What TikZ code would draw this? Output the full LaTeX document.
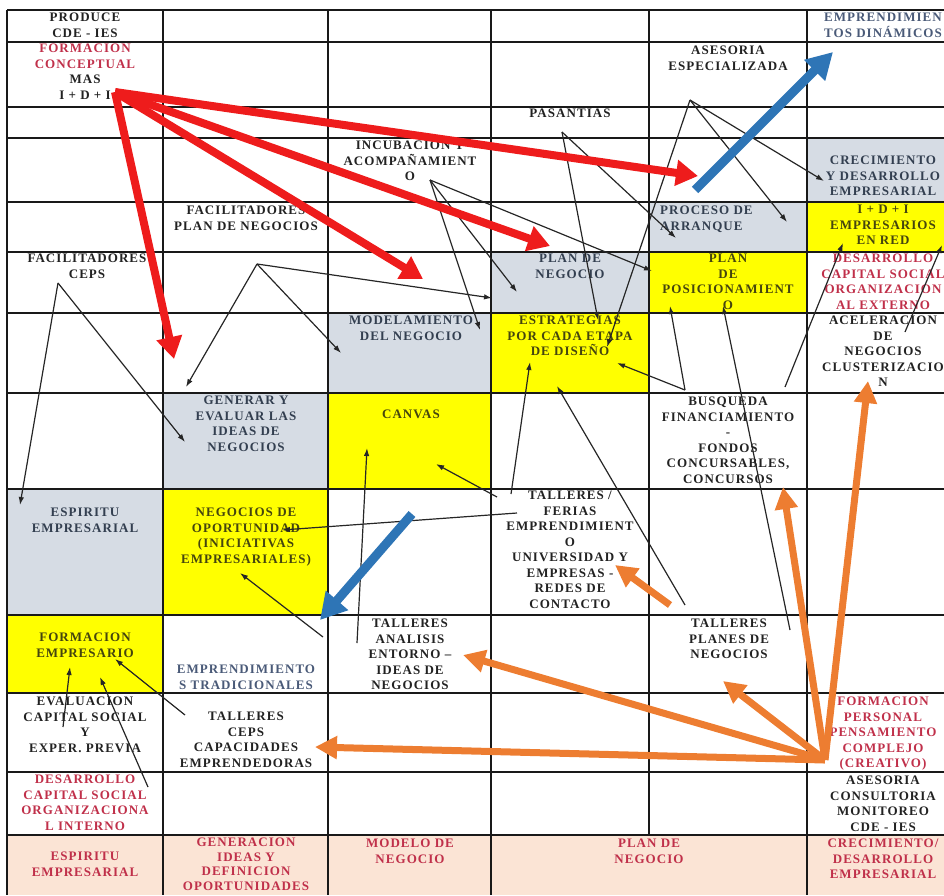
\documentclass[tikz,border=0pt]{standalone}
\usepackage{fontspec}
\setmainfont{Liberation Serif}
\newfontfamily\cellfont[LetterSpace=8]{Liberation Serif}
\usepackage{tikz}
\usetikzlibrary{arrows.meta}
\definecolor{cellGray}{HTML}{D6DCE4}
\definecolor{cellYellow}{HTML}{FFFF00}
\definecolor{cellPink}{HTML}{FBE4D5}
\definecolor{txtDark}{HTML}{222222}
\definecolor{txtRed}{HTML}{C0304A}
\definecolor{txtSlate}{HTML}{333F50}
\definecolor{txtBlue}{HTML}{4A5A78}
\definecolor{txtOlive}{HTML}{45450E}
\definecolor{arrRed}{HTML}{EE1C1C}
\definecolor{arrBlue}{HTML}{2E75B6}
\definecolor{arrOrange}{HTML}{ED7D31}
\tikzset{
  ctxt/.style={anchor=north,align=center,inner sep=0pt,text=txtDark,
    font=\cellfont\bfseries\fontsize{13}{15.5}\selectfont},
  redtxt/.style={ctxt,text=txtRed},
  slatetxt/.style={ctxt,text=txtSlate},
  bluetxt/.style={ctxt,text=txtBlue},
  olivetxt/.style={ctxt,text=txtOlive},
  gline/.style={line width=1.4pt,black!90},
  aflow/.style={-{Latex[length=8pt,width=5.5pt]},line width=1.2pt,black!85},
  ared/.style={-{Triangle[length=22pt,width=25pt]},line width=8pt,arrRed},
  ablue/.style={-{Triangle[length=26pt,width=28pt]},line width=9pt,arrBlue},
  aorange/.style={-{Triangle[length=22pt,width=22pt]},line width=7pt,arrOrange},
}

\begin{document}
\begin{tikzpicture}[x=1pt,y=-1pt]
\useasboundingbox (0,0) rectangle (944,895);
\clip (0,0) rectangle (944,895);
% cell fills
\fill[cellPink] (7,835) rectangle (960,895);
\fill[cellGray] (807,138) rectangle (960,202);
\fill[cellGray] (649,202) rectangle (807,252);
\fill[cellGray] (491,252) rectangle (649,313);
\fill[cellGray] (328,313) rectangle (491,393);
\fill[cellGray] (163,393) rectangle (328,489);
\fill[cellGray] (7,489) rectangle (163,615);
\fill[cellYellow] (807,202) rectangle (960,252);
\fill[cellYellow] (649,252) rectangle (807,313);
\fill[cellYellow] (491,313) rectangle (649,393);
\fill[cellYellow] (328,393) rectangle (491,489);
\fill[cellYellow] (163,489) rectangle (328,615);
\fill[cellYellow] (7,615) rectangle (163,693);
% grid
\foreach \y in {10,42,107,138,202,252,313,393,489,615,693,772,835}
  \draw[gline] (7,\y) -- (960,\y);
\foreach \x in {7,163,328,491,807}
  \draw[gline] (\x,10) -- (\x,895);
\draw[gline] (649,10) -- (649,835);

% cell texts
\node[ctxt] (produce) at (85,13) {PRODUCE\\CDE - IES};
\node[bluetxt] (dinam) at (883,13) {EMPRENDIMIEN\\TOS DINÁMICOS};
\node[ctxt] (formcon) at (85,44) {\textcolor{txtRed}{FORMACION}\\\textcolor{txtRed}{CONCEPTUAL}\\MAS\\I + D + I};
\node[ctxt] (asesesp) at (728,46) {ASESORIA\\ESPECIALIZADA};
\node[ctxt] (pasant) at (570,109) {PASANTIAS};
\node[ctxt] (incub) at (410,141) {INCUBACION Y\\ACOMPAÑAMIENT\\O};
\node[slatetxt] (crecim) at (883,156) {CRECIMIENTO\\Y DESARROLLO\\EMPRESARIAL};
\node[ctxt] (facplan) at (246,206) {FACILITADORES\\PLAN DE NEGOCIOS};
\node[slatetxt,anchor=north west,align=left] (proceso) at (660,206) {PROCESO DE\\ARRANQUE};
\node[olivetxt] (idired) at (883,205) {I + D + I\\EMPRESARIOS\\EN RED};
\node[ctxt] (facceps) at (87,254) {FACILITADORES\\CEPS};
\node[slatetxt] (plannego) at (570,254) {PLAN DE\\NEGOCIO};
\node[olivetxt] (planpos) at (728,254) {PLAN\\DE\\POSICIONAMIENT\\O};
\node[redtxt] (desext) at (883,254) {DESARROLLO\\CAPITAL SOCIAL\\ORGANIZACION\\AL EXTERNO};
\node[slatetxt] (modela) at (411,316) {MODELAMIENTO\\DEL NEGOCIO};
\node[olivetxt] (estrat) at (570,316) {ESTRATEGIAS\\POR CADA ETAPA\\DE DISEÑO};
\node[ctxt] (aceler) at (883,316) {ACELERACION\\DE\\NEGOCIOS\\CLUSTERIZACIO\\N};
\node[slatetxt] (generar) at (246,396) {GENERAR Y\\EVALUAR LAS\\IDEAS DE\\NEGOCIOS};
\node[olivetxt] (canvas) at (411,410) {CANVAS};
\node[ctxt] (busq) at (728,397) {BUSQUEDA\\FINANCIAMIENTO\\-\\FONDOS\\CONCURSABLES,\\CONCURSOS};
\node[slatetxt] (espir) at (85,508) {ESPIRITU\\EMPRESARIAL};
\node[olivetxt] (negop) at (246,508) {NEGOCIOS DE\\OPORTUNIDAD\\(INICIATIVAS\\EMPRESARIALES)};
\node[ctxt] (talfer) at (570,491) {TALLERES /\\FERIAS\\EMPRENDIMIENT\\O\\UNIVERSIDAD Y\\EMPRESAS -\\REDES DE\\CONTACTO};
\node[olivetxt] (formemp) at (85,633) {FORMACION\\EMPRESARIO};
\node[bluetxt] (emtrad) at (246,665) {EMPRENDIMIENTO\\S TRADICIONALES};
\node[ctxt] (talana) at (410,619) {TALLERES\\ANALISIS\\ENTORNO –\\IDEAS DE\\NEGOCIOS};
\node[ctxt] (talplan) at (729,619) {TALLERES\\PLANES DE\\NEGOCIOS};
\node[ctxt] (evalu) at (85,697) {EVALUACION\\CAPITAL SOCIAL\\Y\\EXPER. PREVIA};
\node[ctxt] (talceps) at (246,712) {TALLERES\\CEPS\\CAPACIDADES\\EMPRENDEDORAS};
\node[redtxt] (formper) at (883,697) {FORMACION\\PERSONAL\\PENSAMIENTO\\COMPLEJO\\(CREATIVO)};
\node[redtxt] (desint) at (85,775) {DESARROLLO\\CAPITAL SOCIAL\\ORGANIZACIONA\\L INTERNO};
\node[ctxt] (asecons) at (883,776) {ASESORIA\\CONSULTORIA\\MONITOREO\\CDE - IES};
\node[redtxt] (fespir) at (85,852) {ESPIRITU\\EMPRESARIAL};
\node[redtxt,font=\cellfont\bfseries\fontsize{13}{14.5}\selectfont] (fgener) at (246,838) {GENERACION\\IDEAS Y\\DEFINICION\\OPORTUNIDADES};
\node[redtxt] (fmodel) at (410,839) {MODELO DE\\NEGOCIO};
\node[redtxt] (fplan) at (649,839) {PLAN DE\\NEGOCIO};
\node[redtxt] (fcrec) at (883,839) {CRECIMIENTO/\\DESARROLLO\\EMPRESARIAL};

% end points of the thin arrows
\coordinate (cepsTop) at (58,283);
\coordinate (espirIn) at (20,505);
\coordinate (genIn1) at (185,442);
\coordinate (facTop) at (257,264);
\coordinate (genIn2) at (186,387);
\coordinate (modIn1) at (341,353);
\coordinate (planIn1) at (492,298);
\coordinate (incTop) at (430,180);
\coordinate (modIn2) at (480,330);
\coordinate (planIn2) at (517,292);
\coordinate (posIn1) at (652,271);
\coordinate (pasTop) at (562,132);
\coordinate (estIn1) at (598,320);
\coordinate (arrIn1) at (676,238);
\coordinate (aseTop) at (690,100);
\coordinate (crecIn) at (824,181);
\coordinate (arrIn2) at (787,222);
\coordinate (estIn2) at (607,347);
\coordinate (busTop) at (685,390);
\coordinate (estIn3) at (617,363);
\coordinate (posIn2) at (670,306);
\coordinate (busRight) at (785,387);
\coordinate (redIn1) at (843,243);
\coordinate (acelTop) at (905,332);
\coordinate (redIn2) at (942,245);
\coordinate (tplTop) at (790,630);
\coordinate (posIn3) at (723,306);
\coordinate (tplLeft) at (685,605);
\coordinate (estIn4) at (557,386);
\coordinate (ferA) at (497,497);
\coordinate (canIn1) at (436,464);
\coordinate (ferB) at (511,494);
\coordinate (estIn5) at (530,362);
\coordinate (ferC) at (517,513);
\coordinate (opIn1) at (282,530);
\coordinate (anaTop) at (357,643);
\coordinate (canIn2) at (367,448);
\coordinate (anaLeft) at (323,637);
\coordinate (opIn2) at (240,573);
\coordinate (evaTop) at (63,727);
\coordinate (femIn1) at (70,667);
\coordinate (desTop) at (148,787);
\coordinate (femIn2) at (100,677);
\coordinate (tcTop) at (185,715);
\coordinate (femIn3) at (115,659);

\draw[aflow] (cepsTop) -- (espirIn);
\draw[aflow] (cepsTop) -- (genIn1);
\draw[aflow] (facTop) -- (genIn2);
\draw[aflow] (facTop) -- (modIn1);
\draw[aflow] (facTop) -- (planIn1);
\draw[aflow] (incTop) -- (modIn2);
\draw[aflow] (incTop) -- (planIn2);
\draw[aflow] (incTop) -- (posIn1);
\draw[aflow] (pasTop) -- (estIn1);
\draw[aflow] (pasTop) -- (arrIn1);
\draw[aflow] (aseTop) -- (crecIn);
\draw[aflow] (aseTop) -- (arrIn2);
\draw[aflow] (aseTop) -- (estIn2);
\draw[aflow] (busTop) -- (estIn3);
\draw[aflow] (busTop) -- (posIn2);
\draw[aflow] (busRight) -- (redIn1);
\draw[aflow] (acelTop) -- (redIn2);
\draw[aflow] (tplTop) -- (posIn3);
\draw[aflow] (tplLeft) -- (estIn4);
\draw[aflow] (ferA) -- (canIn1);
\draw[aflow] (ferB) -- (estIn5);
\draw[aflow] (ferC) -- (opIn1);
\draw[aflow] (anaTop) -- (canIn2);
\draw[aflow] (anaLeft) -- (opIn2);
\draw[aflow] (evaTop) -- (femIn1);
\draw[aflow] (desTop) -- (femIn2);
\draw[aflow] (tcTop) -- (femIn3);

% thick arrows
\coordinate (idiSrc) at (115,92);
\coordinate (redT1) at (698,176);
\coordinate (redT2) at (550,246);
\coordinate (redT3) at (423,279);
\coordinate (redT4) at (174,359);
\draw[ared] (idiSrc) -- (redT1);
\draw[ared] (idiSrc) -- (redT2);
\draw[ared] (idiSrc) -- (redT3);
\draw[ared] (idiSrc) -- (redT4);

\coordinate (dinSrc) at (695,190);
\coordinate (dinTip) at (833,52);
\coordinate (tradSrc) at (412,514);
\coordinate (tradTip) at (320,620);
\draw[ablue] (dinSrc) -- (dinTip);
\draw[ablue] (tradSrc) -- (tradTip);

\coordinate (perSrc) at (825,760);
\coordinate (oT1) at (868,381);
\coordinate (oT2) at (783,487);
\coordinate (oT3) at (723,681);
\coordinate (oT4) at (463,655);
\coordinate (oT5) at (315,747);
\coordinate (tplSrc) at (670,605);
\coordinate (oT6) at (615,565);
\draw[aorange] (perSrc) -- (oT1);
\draw[aorange] (perSrc) -- (oT2);
\draw[aorange] (perSrc) -- (oT3);
\draw[aorange] (perSrc) -- (oT4);
\draw[aorange] (perSrc) -- (oT5);
\draw[aorange] (tplSrc) -- (oT6);
\end{tikzpicture}
\end{document}
